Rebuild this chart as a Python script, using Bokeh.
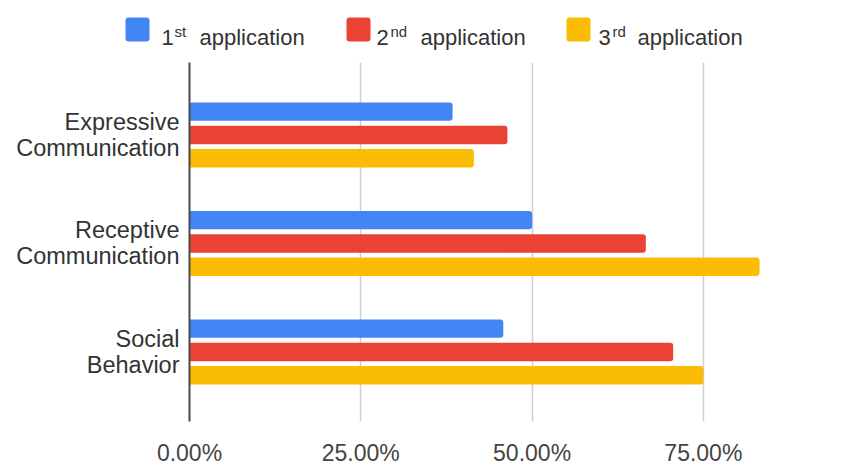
from bokeh.plotting import figure
from bokeh.layouts import column, row
from bokeh.models import Range1d, FixedTicker, NumeralTickFormatter, ColumnDataSource
from bokeh.core.properties import value
from bokeh.embed import file_html
from bokeh.resources import INLINE

# ---- data -------------------------------------------------------------
categories = ["Expressive\nCommunication", "Receptive\nCommunication", "Social\nBehavior"]
first_app = [0.384, 0.50, 0.458]
second_app = [0.464, 0.666, 0.706]
third_app = [0.415, 0.832, 0.75]
x_ticks = [0.0, 0.25, 0.50, 0.75]

series_nums = ["1", "2", "3"]
series_sups = ["st", "nd", "rd"]
series_word = "application"
colors = ["#4285F4", "#EA4335", "#FBBC04"]

FONT = "Liberation Sans"
W, H = 868, 468
LEG_H = 62
LEFT = 189

# categories are listed top to bottom; the y axis counts bottom to top
y_pos = [len(categories) - 1 - i for i in range(len(categories))]

# ---- main chart -------------------------------------------------------
p = figure(width=W, height=H - LEG_H, output_backend="svg", toolbar_location=None,
           x_range=Range1d(0, 0.991), y_range=Range1d(-0.641, 2.668),
           min_border_left=LEFT, min_border_right=0, min_border_top=0,
           min_border_bottom=37)
p.outline_line_color = None
p.background_fill_color = "white"
p.border_fill_color = "white"

bar_h = 0.17
step = 0.215
series = [first_app, second_app, third_app]
offsets = [step, 0.0, -step]
for vals, off, col in zip(series, offsets, colors):
    src = ColumnDataSource(dict(y=[y + off for y in y_pos], right=vals))
    p.hbar(y="y", left=0, right="right", height=bar_h, source=src,
           fill_color=col, line_color=None, border_radius=(0, 3, 3, 0))

# x axis: percentage labels, no line or ticks
p.xaxis.ticker = FixedTicker(ticks=x_ticks)
p.xaxis.formatter = NumeralTickFormatter(format="0.00%")
p.xaxis.axis_line_color = None
p.xaxis.major_tick_line_color = None
p.xaxis.minor_tick_line_color = None
p.xaxis.major_tick_out = 0
p.xaxis.major_label_standoff = 18
p.xaxis.major_label_text_font = FONT
p.xaxis.major_label_text_font_size = "23px"
p.xaxis.major_label_text_color = "#444444"

# y axis: category names on two lines
p.yaxis.ticker = FixedTicker(ticks=y_pos)
p.yaxis.major_label_overrides = {y: c for y, c in zip(y_pos, categories)}
p.yaxis.axis_line_color = "#4a4a4a"
p.yaxis.axis_line_width = 2
p.yaxis.major_tick_line_color = None
p.yaxis.minor_tick_line_color = None
p.yaxis.major_tick_out = 0
p.yaxis.major_label_standoff = 10
p.yaxis.major_label_text_font = FONT
p.yaxis.major_label_text_font_size = "23.5px"
p.yaxis.major_label_text_color = "#333333"
p.yaxis.major_label_text_line_height = 1.0

p.xgrid.ticker = FixedTicker(ticks=x_ticks[1:])
p.xgrid.grid_line_color = "#cfcfcf"
p.xgrid.grid_line_width = 1.5
p.ygrid.grid_line_color = None

# ---- legend strip with superscripted ordinals -------------------------
leg = figure(width=W, height=LEG_H, output_backend="svg", toolbar_location=None,
             x_range=Range1d(0, W), y_range=Range1d(LEG_H, 0),
             min_border=0, x_axis_type=None, y_axis_type=None)
leg.outline_line_color = None
leg.grid.visible = False

swatch_x = [125, 346, 566]
num_x = [161, 376, 598]
sup_x = [174, 390, 612]
word_x = [199, 420, 637]

leg.quad(left=swatch_x, right=[x + 24 for x in swatch_x], top=17, bottom=41,
         fill_color=colors, line_color=None, border_radius=3)
leg.text(x=num_x, y=37, text=series_nums, text_font=value(FONT),
         text_font_size="22px", text_color="#333333", text_baseline="alphabetic")
leg.text(x=sup_x, y=31, text=series_sups, text_font=value(FONT),
         text_font_size="15px", text_color="#333333", text_baseline="alphabetic")
leg.text(x=word_x, y=37, text=[series_word] * 3, text_font=value(FONT),
         text_font_size="22px", text_color="#333333", text_baseline="alphabetic")

# the legend sits in its own row so its frame keeps the full page width
layout = column(row(leg), p, spacing=0)
open("out.html", "w").write(file_html(layout, INLINE))
